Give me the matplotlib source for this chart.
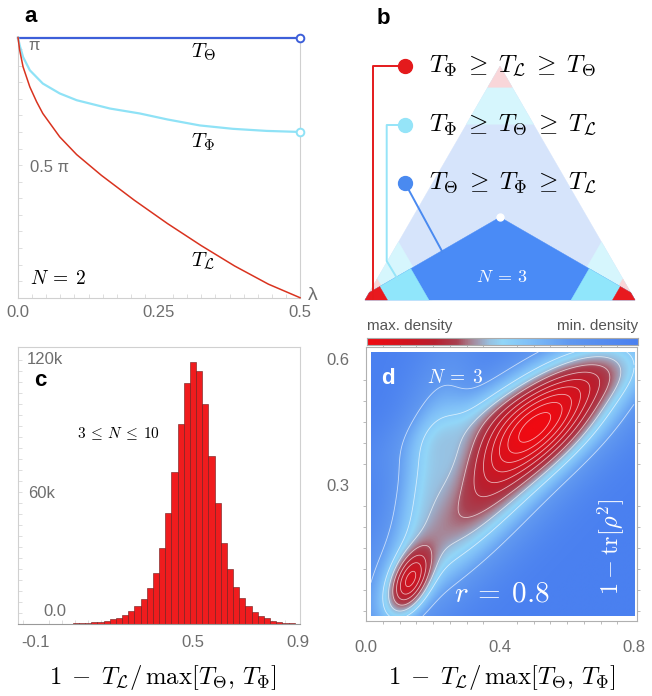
import numpy as np
import matplotlib
matplotlib.use("Agg")
import matplotlib.pyplot as plt
from matplotlib.colors import LinearSegmentedColormap, PowerNorm
from matplotlib.patches import Polygon

plt.rcParams['mathtext.fontset'] = 'cm'
plt.rcParams['font.family'] = ['Liberation Sans', 'DejaVu Sans']

# ---------------- data ----------------
# panel a (values in units of pi)
lam_L = [0, 0.003, 0.009, 0.021, 0.033, 0.044, 0.074, 0.104, 0.148, 0.206, 0.265, 0.325, 0.384, 0.444, 0.5]
T_L = [1.0, 0.951, 0.887, 0.810, 0.753, 0.708, 0.618, 0.550, 0.470, 0.375, 0.285, 0.200, 0.122, 0.052, 0.0]
lam_Phi = [0, 0.003, 0.009, 0.021, 0.044, 0.074, 0.104, 0.163, 0.216, 0.265, 0.3225, 0.381, 0.441, 0.5]
T_Phi = [1.0, 0.970, 0.925, 0.874, 0.823, 0.785, 0.759, 0.727, 0.708, 0.685, 0.662, 0.649, 0.641, 0.637]
lam_Theta = [0, 0.5]
T_Theta = [1.0, 1.0]
a_xticks = [0.0, 0.25, 0.5]
a_xticklabels = ["0.0", "0.25", "0.5"]

# panel b (simplex regions, side = 1)
pale_d1, pale_d2 = 0.078, 0.215          # corner region depths (pale layer)
solid_top = 0.307                         # apex height of front layer
solid_red_u, solid_cyan_u = 0.072, 0.205  # front-layer boundaries
b_labels = [r"$T_\Phi \;\geq\; T_{\mathcal{L}} \;\geq\; T_\Theta$",
            r"$T_\Phi \;\geq\; T_\Theta \;\geq\; T_{\mathcal{L}}$",
            r"$T_\Theta \;\geq\; T_\Phi \;\geq\; T_{\mathcal{L}}$"]

# panel c histogram
bin_start = -0.0303
bin_width = 0.02352
counts_k = [0.05, 0.1, 0.15, 0.25, 0.35,
            0.5, 0.7, 1.0, 1.4, 2.3, 2.9, 4.1, 5.9, 8.0, 11.3, 16.2, 23.4, 34.6, 50.3,
            69.3, 91.0, 109.4, 119.2, 115.2, 99.8, 76.5, 54.9, 37.0, 24.9, 16.9, 11.6,
            8.0, 5.6, 3.8, 2.6, 1.5, 1.0, 0.6, 0.3, 0.15, 0.05]
c_xticks = [-0.1, 0.5, 0.9]
c_xticklabels = ["-0.1", "0.5", "0.9"]

# panel d density: mixture components (x, y, angle deg, sigma_major, sigma_minor, peak)
dens_mx = [0.51, 0.38, 0.13, 0.19, 0.70, 0.31]
dens_my = [0.45, 0.30, 0.07, 0.33, 0.56, 0.45]
dens_ang = [28, 40, 55, 75, 18, 20]
dens_s1 = [0.14, 0.22, 0.055, 0.13, 0.09, 0.12]
dens_s2 = [0.06, 0.06, 0.032, 0.05, 0.04, 0.04]
dens_h = [0.70, 0.33, 0.50, 0.13, 0.12, 0.08]
d_xticks = [0.0, 0.4, 0.8]
d_yticks = [0.3, 0.6]

# ---------------- figure ----------------
W, H = 652, 696
fig = plt.figure(figsize=(W / 100, H / 100), dpi=100)


def px_axes(l, t, r, b, **kw):
    return fig.add_axes([l / W, 1 - b / H, (r - l) / W, (b - t) / H], **kw)


def ftxt(x, y, s, **kw):
    fig.text(x / W, 1 - y / H, s, **kw)


GREY = '#6e6e6e'
SP = '#d0d0d0'

# ---------- panel a ----------
ax = px_axes(18, 37.5, 300, 297.7)
ax.set_xlim(0, 0.5)
ax.set_ylim(0, np.pi)
ax.plot(lam_Theta, np.array(T_Theta) * np.pi, color='#3d5fd9', lw=1.6, clip_on=False, zorder=3)
ax.plot(lam_Phi, np.array(T_Phi) * np.pi, color='#8fe2f6', lw=1.6, clip_on=False, zorder=3)
ax.plot(lam_L, np.array(T_L) * np.pi, color='#d9331f', lw=1.1, clip_on=False, zorder=3)
ax.plot([lam_Theta[-1]], [T_Theta[-1] * np.pi], 'o', ms=5.5, mfc='white', mec='#3d5fd9', mew=1.4, clip_on=False, zorder=4)
ax.plot([lam_Phi[-1]], [T_Phi[-1] * np.pi], 'o', ms=5.5, mfc='white', mec='#8fe2f6', mew=1.4, clip_on=False, zorder=4)
for s in ['left', 'right', 'bottom']:
    ax.spines[s].set_color(SP)
    ax.spines[s].set_linewidth(0.8)
ax.spines['top'].set_visible(False)
ax.set_xticks(a_xticks)
ax.set_xticklabels(a_xticklabels)
ax.set_xticks(np.arange(0, 0.5, 0.025), minor=True)
ax.set_yticks([])
ax.set_yticks(np.arange(0.2, 3.1, 0.2), minor=True)
ax.tick_params(axis='x', which='major', length=0, pad=5, labelsize=12, labelcolor=GREY)
ax.tick_params(which='minor', direction='in', length=3, color='#d8d8d8')
ax.set_facecolor('none')
ftxt(34, 46, "π", color=GREY, fontsize=12, ha='center', va='center')
ftxt(49, 167, "0.5 π", color=GREY, fontsize=12, ha='center', va='center')
ftxt(203, 52, r"$T_\Theta$", fontsize=15, ha='center', va='center')
ftxt(203, 142, r"$T_\Phi$", fontsize=15, ha='center', va='center')
ftxt(203, 261, r"$T_{\mathcal{L}}$", fontsize=15, ha='center', va='center')
ftxt(58, 279, r"$N\:=\:2$", fontsize=14, ha='center', va='center')
ftxt(313, 295, "λ", color=GREY, fontsize=14, ha='center', va='center')
ftxt(31, 17, "a", fontsize=16, fontweight='bold', ha='center', va='center')

# ---------- panel b ----------
axb = px_axes(340, 0, 652, 320)
axb.set_xlim((340 - 365) / 270, (652 - 365) / 270)
axb.set_ylim((300 - 320) / 270, 300 / 270)
axb.axis('off')


def clip(poly, a, b, c):
    out = []
    n = len(poly)
    for i in range(n):
        p, q = poly[i], poly[(i + 1) % n]
        fp = a * p[0] + b * p[1] - c
        fq = a * q[0] + b * q[1] - c
        if fp <= 0:
            out.append(p)
        if fp * fq < 0:
            t = fp / (fp - fq)
            out.append((p[0] + t * (q[0] - p[0]), p[1] + t * (q[1] - p[1])))
    return out


s3 = np.sqrt(3)
tri = [(0.0, 0.0), (1.0, 0.0), (0.5, s3 / 2)]
G = np.array([0.5, s3 / 6])


def addpoly(pts, col, z):
    if len(pts) >= 3:
        axb.add_patch(Polygon(pts, closed=True, fc=col, ec=col, lw=0.3, zorder=z))


addpoly(tri, '#d6e4fb', 1)
for C in tri:
    d = (G - np.array(C)) / np.linalg.norm(G - np.array(C))
    addpoly(clip(tri, d[0], d[1], pale_d2 + d @ np.array(C)), '#d6f6fd', 2)
    addpoly(clip(tri, d[0], d[1], pale_d1 + d @ np.array(C)), '#f9d6d9', 3)

t30 = np.tan(np.pi / 6)
S = clip(tri, -t30, 1, solid_top - 0.5 * t30)
S = clip(S, t30, 1, solid_top + 0.5 * t30)
addpoly(S, '#4a8bf6', 4)
c30, s30 = np.cos(np.pi / 6), 0.5
for u, col, z in [(solid_cyan_u, '#90e6fb', 5), (solid_red_u, '#e8191f', 6)]:
    addpoly(clip(S, c30, s30, u), col, z)
    addpoly(clip(S, -c30, s30, u - c30), col, z)
axb.plot([0.5], [solid_top], 'o', ms=5, color='white', zorder=8)


def bpx(px, py):
    return (px - 365) / 270, (300 - py) / 270


legend_y = [66, 125, 183]
legend_col = ['#e41a1c', '#95e4f8', '#4a8af0']
pts = [bpx(405, 66), bpx(373, 66), bpx(373, 299)]
axb.plot(*zip(*pts), color=legend_col[0], lw=1.4, zorder=9)
pts = [bpx(405, 125), bpx(386.7, 125), bpx(386.7, 261), bpx(397.7, 279.3)]
axb.plot(*zip(*pts), color=legend_col[1], lw=1.4, zorder=9)
pts = [bpx(405, 183), bpx(442.3, 251.7)]
axb.plot(*zip(*pts), color=legend_col[2], lw=1.4, zorder=9)
for yy, col, lab in zip(legend_y, legend_col, b_labels):
    x0, y0 = bpx(405, yy)
    axb.plot([x0], [y0], 'o', ms=10, color=col, zorder=10)
    ftxt(429, yy, lab, fontsize=18, ha='left', va='center')
ftxt(502, 278, r"$N\:=\:3$", fontsize=13, color='white', ha='center', va='center')
ftxt(383, 19, "b", fontsize=16, fontweight='bold', ha='center', va='center')

# ---------- panel c ----------
axc = px_axes(18, 347, 300, 624)
c_b = 262.3
c_a = 62.1
axc.set_xlim((18 - c_a) / c_b, (300 - c_a) / c_b)
ymax = 120 * (624 - 347) / (624 - 360)
axc.set_ylim(0, ymax)
lefts = bin_start + bin_width * np.arange(len(counts_k))
axc.bar(lefts, counts_k, width=bin_width, align='edge', color='#f01c1e',
        edgecolor='#6a1a1a', linewidth=0.4, zorder=2)
for s in ['left', 'right', 'top']:
    axc.spines[s].set_color(SP)
    axc.spines[s].set_linewidth(0.8)
axc.spines['bottom'].set_color('#999999')
axc.spines['bottom'].set_linewidth(0.8)
axc.set_xticks(c_xticks)
axc.set_xticklabels(c_xticklabels)
axc.set_xticks(np.arange(-0.15, 0.91, 0.05), minor=True)
axc.set_yticks([])
axc.set_yticks(np.arange(5, 125, 5), minor=True)
axc.tick_params(axis='x', which='major', length=0, pad=8, labelsize=12, labelcolor=GREY)
axc.tick_params(which='minor', direction='in', length=3, color='#d8d8d8')
ftxt(27, 359, "120k", color=GREY, fontsize=12, ha='left', va='center')
ftxt(28, 493, "60k", color=GREY, fontsize=12, ha='left', va='center')
ftxt(43, 612, "0.0", color=GREY, fontsize=12, ha='left', va='center')
ftxt(40, 380, "c", fontsize=16, fontweight='bold', ha='center', va='center')
ftxt(119, 433, r"$3 \:\leq\: N \:\leq\: 10$", fontsize=11, ha='center', va='center')
xlab = r"$1\;-\;T_{\mathcal{L}}/\,\max[T_\Theta,\,T_\Phi]$"
ftxt(163, 678, xlab, fontsize=17.8, ha='center', va='center')

# ---------- panel d ----------
axd = px_axes(366, 347, 637, 621)
dx = lambda px: (px - 365) / 336.25
dy = lambda py: (610.7 - py) / 419.0
axd.set_xlim(dx(366), dx(637))
axd.set_ylim(dy(621), dy(347))
xs = np.linspace(dx(370), dx(634), 420)
ys = np.linspace(dy(616), dy(352), 420)
X, Y = np.meshgrid(xs, ys)
Z = np.zeros_like(X)
for mx, my, ang, s1, s2, h in zip(dens_mx, dens_my, dens_ang, dens_s1, dens_s2, dens_h):
    th = np.deg2rad(ang)
    u = (X - mx) * np.cos(th) + (Y - my) * np.sin(th)
    v = -(X - mx) * np.sin(th) + (Y - my) * np.cos(th)
    Z += h * np.exp(-0.5 * ((u / s1) ** 2 + (v / s2) ** 2))
Z /= Z.max()

cmap = LinearSegmentedColormap.from_list('dens', [
    (0.0, '#4a80f0'), (0.25, '#6098f0'), (0.4, '#80c0f8'), (0.5, '#92d6f8'),
    (0.55, '#98c0e0'), (0.62, '#a88090'), (0.67, '#a84050'), (0.75, '#b82030'),
    (0.85, '#d01420'), (1.0, '#f00a12')])
norm = PowerNorm(gamma=0.4, vmin=0, vmax=1)
axd.imshow(Z, extent=[xs[0], xs[-1], ys[0], ys[-1]], origin='lower', cmap=cmap,
           norm=norm, aspect='auto', interpolation='bilinear', zorder=1)
axd.contour(X, Y, Z, levels=np.linspace(0.04, 0.94, 10), colors='white',
            linewidths=0.6, alpha=0.65, zorder=2)
for s in axd.spines.values():
    s.set_color('#b0b0b0')
    s.set_linewidth(0.8)
axd.set_xticks(d_xticks)
axd.set_xticklabels(["0.0", "0.4", "0.8"])
axd.set_yticks(d_yticks)
axd.set_yticklabels(["0.3", "0.6"])
axd.set_xticks(np.arange(0.05, 0.8, 0.05), minor=True)
axd.set_yticks(np.arange(0.0, 0.63, 0.05), minor=True)
axd.tick_params(which='major', length=0, labelsize=12, labelcolor=GREY)
axd.tick_params(axis='x', which='major', pad=14)
axd.tick_params(axis='y', which='major', pad=12)
axd.tick_params(which='minor', direction='out', length=2.5, color='#b0b0b0',
                top=True, right=True)

# colorbar
axcb = px_axes(367, 338, 638, 345)
grad = np.linspace(1, 0, 400)[None, :]
axcb.imshow(grad, cmap=cmap, aspect='auto', extent=[0, 1, 0, 1])
axcb.set_xticks([])
axcb.set_yticks([])
for s in axcb.spines.values():
    s.set_color('#aaaaaa')
    s.set_linewidth(0.8)
ftxt(367, 326, "max. density", color='#555555', fontsize=11, ha='left', va='center')
ftxt(638, 326, "min. density", color='#555555', fontsize=11, ha='right', va='center')

ftxt(388, 378, "d", fontsize=16, fontweight='bold', color='white', ha='center', va='center')
ftxt(455, 378, r"$N\:=\:3$", fontsize=14, color='white', ha='center', va='center')
ftxt(502, 593, r"$r\:=\:0.8$", fontsize=21, color='white', ha='center', va='center')
ftxt(611, 547, r"$1\:-\:\mathrm{tr}[\rho^2]$", fontsize=17.5, color='white', ha='center',
     va='center', rotation=90)
ftxt(502, 678, xlab, fontsize=17.8, ha='center', va='center')

fig.savefig("out.png", dpi=100)
